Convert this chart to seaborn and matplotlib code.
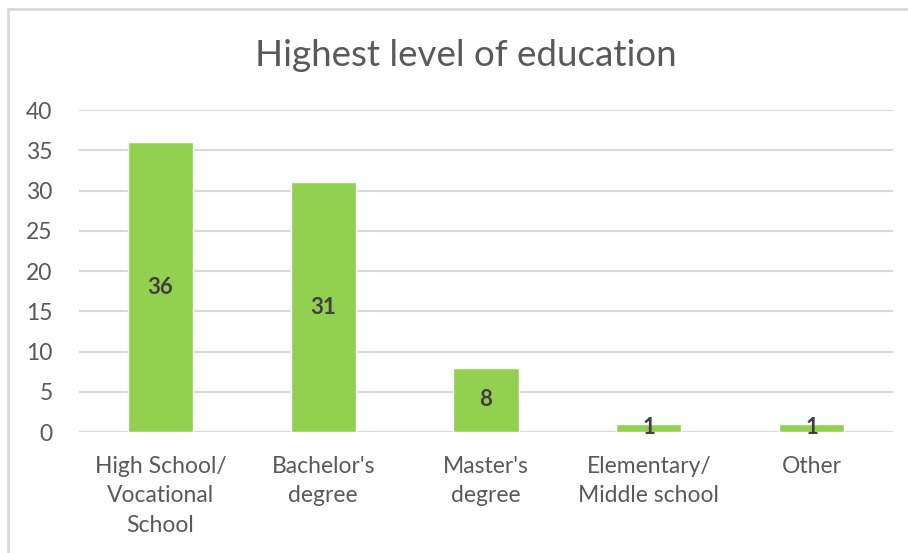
import matplotlib
matplotlib.use("Agg")
import matplotlib.pyplot as plt
import seaborn as sns
import pandas as pd
from matplotlib.lines import Line2D

categories = ["High School/\nVocational\nSchool", "Bachelor's\ndegree", "Master's\ndegree",
              "Elementary/\nMiddle school", "Other"]
counts = [36, 31, 8, 1, 1]
y_ticks = [0, 5, 10, 15, 20, 25, 30, 35, 40]
title = "Highest level of education"

sns.set_theme(style="white")
plt.rcParams["font.family"] = ["Lato", "DejaVu Sans"]

df = pd.DataFrame({"category": categories, "count": counts})

fig = plt.figure(figsize=(9.08, 5.53), dpi=100)
ax = fig.add_axes([0.087, 0.2188, 0.8965, 0.5822])

sns.barplot(data=df, x="category", y="count", color="#92d050", saturation=1,
            width=0.4, ax=ax, zorder=3)

ax.set_ylim(0, 40)
ax.set_yticks(y_ticks)
ax.set_xlim(-0.5, len(categories) - 0.5)
ax.set_xticks(range(len(categories)))
ax.set_xticklabels(categories, linespacing=1.5)
ax.yaxis.grid(True, color="#d9d9d9", linewidth=1.5, zorder=0)
ax.xaxis.grid(False)
for s in ax.spines.values():
    s.set_visible(False)
ax.axhline(0, color="#d9d9d9", linewidth=1.5, zorder=2)
ax.set_xlabel("")
ax.set_ylabel("")
ax.tick_params(axis="both", length=0, labelsize=16.5, labelcolor="#595959")
ax.tick_params(axis="y", pad=19)
ax.tick_params(axis="x", pad=17)

for i, v in enumerate(counts):
    ax.text(i, v / 2, str(v), ha="center", va="center", fontsize=16,
            fontweight="bold", color="#404040", zorder=4)

fig.text(0.513, 0.90, title, ha="center", va="center", fontsize=26.5, color="#595959")

# chart frame (top and left edges)
fig.add_artist(Line2D([8 / 908, 1], [1 - 9 / 553, 1 - 9 / 553], color="#d9d9d9",
                      linewidth=2, transform=fig.transFigure))
fig.add_artist(Line2D([8 / 908, 8 / 908], [0, 1 - 9 / 553], color="#d9d9d9",
                      linewidth=2, transform=fig.transFigure))

fig.savefig("out.png", dpi=100, facecolor="white")
